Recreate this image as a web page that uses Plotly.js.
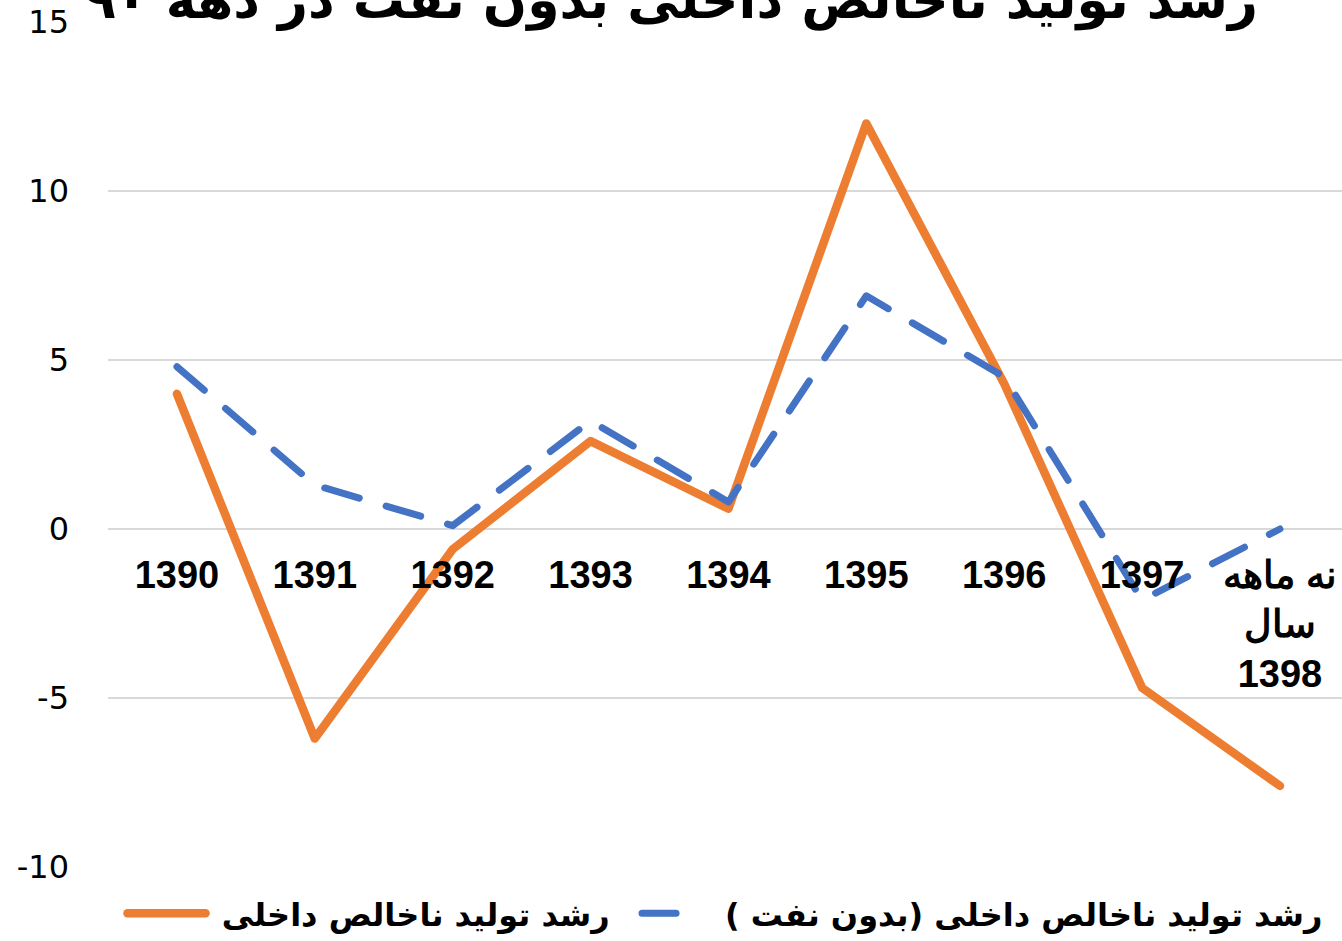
<!DOCTYPE html>
<html>
<head>
<meta charset="utf-8">
<script src="https://cdn.plot.ly/plotly-3.0.1.min.js"></script>
<style>
html,body{margin:0;padding:0;background:#fff;}
#chart{width:1342px;height:941px;}
.scatterlayer path.js-line{stroke-linecap:round;stroke-linejoin:round;}
.legend path.js-line{stroke-linecap:round;}
.legend .traces:nth-child(2) path.js-line{stroke-dasharray:34px 200px !important;}
</style>
</head>
<body>
<div id="chart"></div>
<script>
const categories = ["1390","1391","1392","1393","1394","1395","1396","1397","نه ماهه<br>سال<br>1398"];
const gdpGrowth = [4.0, -6.2, -0.6, 2.6, 0.6, 12.0, 4.3, -4.7, -7.6];
const gdpGrowthNonOil = [4.8, 1.3, 0.1, 3.2, 0.8, 6.9, 4.5, -2.1, 0.0];
const seriesNames = ["رشد تولید ناخالص داخلی", "رشد تولید ناخالص داخلی (بدون نفت )"];
const yTickVals = [-10, -5, 0, 5, 10, 15];
const yTickText = ["-10", "-5", "0", "5", "10", "15"];
const titleText = "رشد تولید ناخالص داخلی بدون نفت در دهه ۹۰";

const traces = [
  {x: categories, y: gdpGrowth, name: "\u00A0" + seriesNames[0] + "\u00A0\u00A0", type: "scatter", mode: "lines",
   line: {color: "#ED7D31", width: 8.5}},
  {x: categories, y: gdpGrowthNonOil, name: seriesNames[1], type: "scatter", mode: "lines",
   line: {color: "#4472C4", width: 7, dash: "36px,28px"}}
];

const layout = {
  width: 1342, height: 941,
  margin: {l: 108, r: 0, t: 22, b: 74},
  paper_bgcolor: "#fff", plot_bgcolor: "#fff",
  title: {text: titleText, font: {family: "DejaVu Sans", size: 52, color: "#000", weight: "bold"},
          xref: "container", x: 0.5, yref: "container", y: 1, yanchor: "middle"},
  showlegend: true,
  legend: {orientation: "h", x: 0.5, xanchor: "center", y: -0.055, yanchor: "middle",
           font: {family: "DejaVu Sans", size: 32, color: "#000", weight: "bold"},
           itemwidth: 78, traceorder: "normal"},
  xaxis: {type: "category", anchor: "free", position: 0.4, showgrid: false, showline: false,
          zeroline: false, ticks: "", ticklabelstandoff: 20,
          tickfont: {family: "Liberation Sans", size: 38, color: "#000", weight: "bold"},
          range: [-0.5, 8.45]},
  yaxis: {range: [-10, 15], tickmode: "array", tickvals: yTickVals, ticktext: yTickText,
          showgrid: true, gridcolor: "#d9d9d9", gridwidth: 2,
          zeroline: true, zerolinecolor: "#d9d9d9", zerolinewidth: 2, showline: false,
          ticks: "", ticklabelstandoff: 38,
          tickfont: {family: "DejaVu Sans", size: 32, color: "#000"}}
};

Plotly.newPlot("chart", traces, layout, {displayModeBar: false});
</script>
</body>
</html>
